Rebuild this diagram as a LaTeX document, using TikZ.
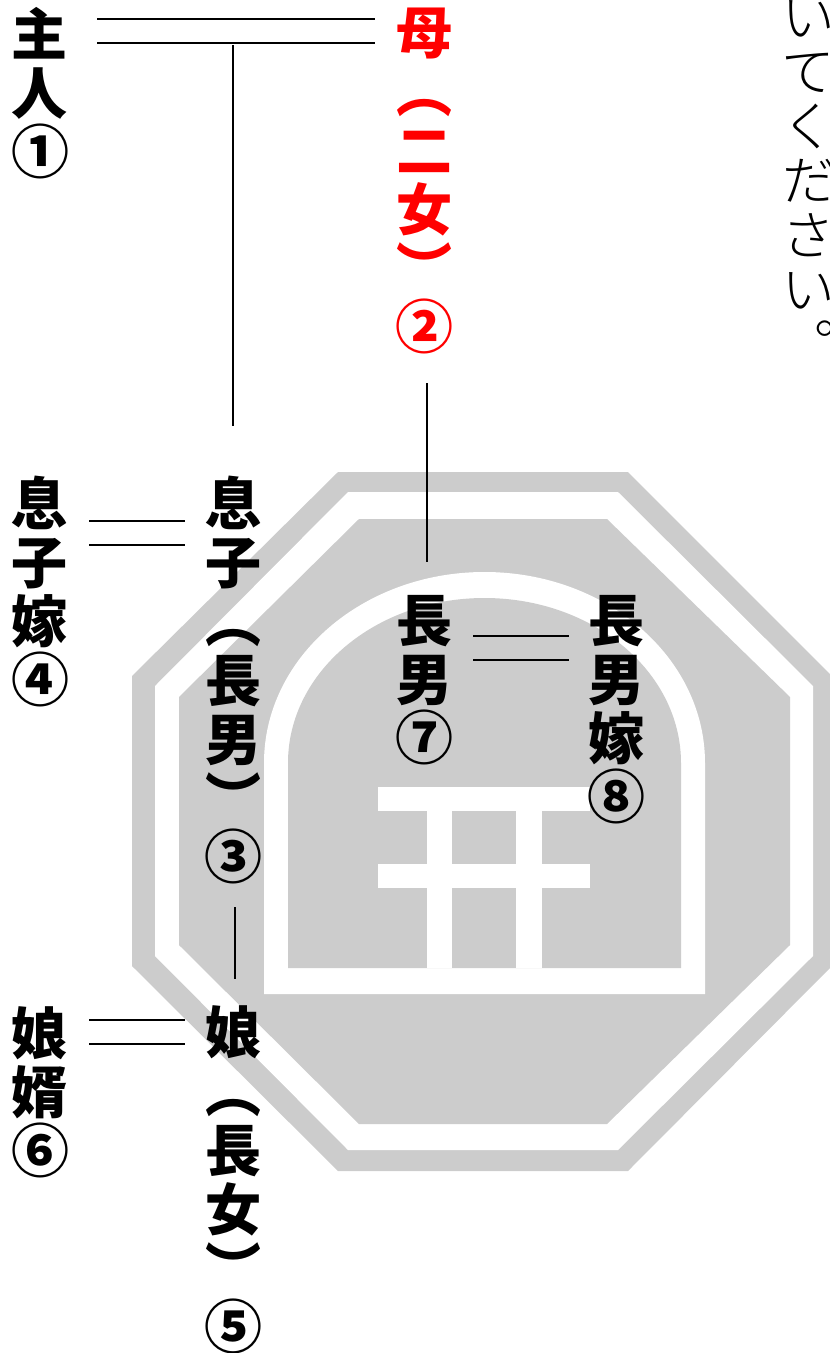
\documentclass[tikz,border=0pt]{standalone}
\usepackage{xcolor}
\usepackage{fontspec}
\newfontfamily\kinfont[RawFeature=+vert]{Noto Sans CJK JP}
\newfontfamily\notefont[RawFeature=+vert]{Noto Sans CJK JP Light}
\newcommand{\rank}[1]{{\fontsize{58}{58}\selectfont #1}}
\definecolor{crestgray}{HTML}{CCCCCC}

\begin{document}
\begin{tikzpicture}[x=1pt, y=-1pt,
    kin/.style={anchor=north, align=center, inner xsep=20pt, inner ysep=0pt,
        font=\kinfont\bfseries\fontsize{56}{59}\selectfont},
    note/.style={anchor=north, align=center, inner sep=0pt,
        font=\notefont\fontsize{54}{54.5}\selectfont},
    tie/.style={line width=1.3pt}]
    \useasboundingbox (0,0) rectangle (830,1353);
    \fill[crestgray] (338,472) -- (628,472) -- (832,676) -- (832,966) -- (628,1171) -- (338,1171) -- (132,966) -- (132,676) -- cycle;
    \fill[white] (348,492) -- (618,492) -- (813,686) -- (813,956) -- (618,1150) -- (348,1150) -- (155,956) -- (155,686) -- cycle;
    \fill[crestgray] (359,519) -- (607,519) -- (790,697) -- (790,945) -- (607,1124) -- (359,1124) -- (179,945) -- (179,697) -- cycle;
    \fill[white] (264,994) -- (264,763) arc[start angle=180, end angle=360, x radius=220.5, y radius=191] -- (705,994) -- cycle;
    \fill[crestgray] (288,968) -- (288,763) arc[start angle=180, end angle=360, x radius=196.5, y radius=165] -- (681,968) -- cycle;
    \fill[white] (378,787) rectangle (590,811);
    \fill[white] (378,864) rectangle (590,888);
    \fill[white] (427,787) rectangle (452,968);
    \fill[white] (516,787) rectangle (542,968);

    \node[kin] (shujin) at (40,7) {主\\人\\\rank{①}};
    \node[kin, red] (haha) at (424,8) {母\\（\\二\\女\\）\\\rank{②}};
    \node[kin] (musukoYome) at (40,476) {息\\子\\嫁\\\rank{④}};
    \node[kin] (musuko) at (233,476) {息\\子\\（\\長\\男\\）\\\rank{③}};
    \node[kin] (choNan) at (424,595) {長\\男\\\rank{⑦}};
    \node[kin] (choNanYome) at (616,595) {長\\男\\嫁\\\rank{⑧}};
    \node[kin] (muko) at (40,1006) {娘\\婿\\\rank{⑥}};
    \node[kin] (musume) at (233,1005) {娘\\（\\長\\女\\）\\\rank{⑤}};
    \node[note] (kudasai) at (808,0) {い\\て\\く\\だ\\さ\\い\\。};

    \coordinate (wedA) at (0,19);
    \coordinate (wedB) at (0,43);
    \coordinate (sonA) at (0,521);
    \coordinate (sonB) at (0,545);
    \coordinate (heirA) at (0,636);
    \coordinate (heirB) at (0,660);
    \coordinate (dauA) at (0,1020);
    \coordinate (dauB) at (0,1044);

    \draw[tie, shorten <=8pt] (shujin.east |- wedA) -- (haha.west |- wedA);
    \draw[tie, shorten <=8pt] (shujin.east |- wedB) -- (haha.west |- wedB);
    \draw[tie, shorten >=-1pt] (musukoYome.east |- sonA) -- (musuko.west |- sonA);
    \draw[tie, shorten >=-1pt] (musukoYome.east |- sonB) -- (musuko.west |- sonB);
    \draw[tie, shorten >=-2pt] (choNan.east |- heirA) -- (choNanYome.west |- heirA);
    \draw[tie, shorten >=-2pt] (choNan.east |- heirB) -- (choNanYome.west |- heirB);
    \draw[tie, shorten >=-1pt] (muko.east |- dauA) -- (musume.west |- dauA);
    \draw[tie, shorten >=-1pt] (muko.east |- dauB) -- (musume.west |- dauB);
    \draw[tie, shorten <=2pt, shorten >=50pt] (musuko.north |- wedB) -- (musuko.north);
    \draw[tie, shorten <=29pt, shorten >=33pt] ([xshift=3pt]haha.south) -- ([xshift=3pt]choNan.north);
    \draw[tie, shorten <=23pt, shorten >=26pt] ([xshift=2pt]musuko.south) -- ([xshift=2pt]musume.north);
\end{tikzpicture}
\end{document}
